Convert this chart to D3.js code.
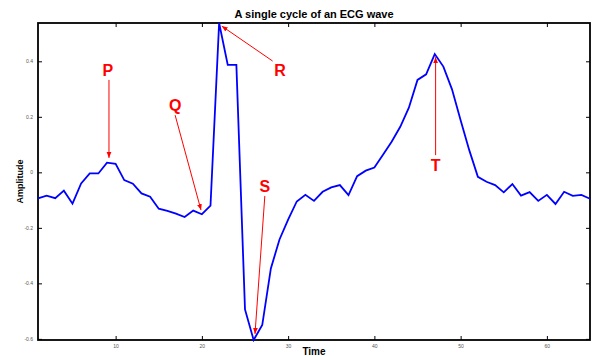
<!DOCTYPE html>
<html>
<head>
<meta charset="utf-8">
<script src="https://cdn.jsdelivr.net/npm/d3@7"></script>
<style>
  body { margin: 0; background: #fff; }
  svg { display: block; font-family: "Liberation Sans", Arial, sans-serif; }
  .tick text { fill: #555; font-size: 5px; }
</style>
</head>
<body>
<script>

// samples 1..65
var amplitude = [
  -0.094, -0.084, -0.093, -0.066, -0.113, -0.040, -0.004, -0.004, 0.035, 0.031,
  -0.028, -0.041, -0.076, -0.088, -0.131, -0.139, -0.149, -0.161, -0.138, -0.151,
  -0.120, 0.538, 0.387, 0.387, -0.494, -0.604, -0.550, -0.346, -0.242, -0.170,
  -0.105, -0.081, -0.103, -0.070, -0.054, -0.046, -0.082, -0.014, 0.006, 0.017,
  0.063, 0.110, 0.164, 0.233, 0.333, 0.353, 0.426, 0.381, 0.299, 0.188,
  0.080, -0.016, -0.034, -0.046, -0.072, -0.042, -0.084, -0.071, -0.103, -0.081,
  -0.114, -0.070, -0.085, -0.081, -0.095
];
var xTicks = [10, 20, 30, 40, 50, 60];
var yTicks = [-0.6, -0.4, -0.2, 0, 0.2, 0.4];

// wave labels and the arrows pointing at them (data units)
var waveNames = ["P", "Q", "R", "S", "T"];
var labelPos = [[9.1, 0.369], [16.9, 0.242], [29.06, 0.369], [27.3, -0.049], [47.1, 0.024]];
var arrowFrom = [[9.23, 0.333], [16.9, 0.206], [28.2, 0.401], [27.3, -0.085], [47.1, 0.062]];
var arrowTo = [[9.23, 0.052], [19.9, -0.136], [22.3, 0.527], [26.16, -0.582], [47.1, 0.415]];

var width = 594,
    height = 356,
    plotL = 38, plotR = 590, plotT = 23, plotB = 340;

var x = d3.scaleLinear().domain([1, 65]).range([plotL, plotR]);
var y = d3.scaleLinear().domain([-0.604, 0.538]).range([plotB, plotT]);

var svg = d3.select("body").append("svg")
    .attr("width", width)
    .attr("height", height);

svg.append("defs").append("marker")
    .attr("id", "head")
    .attr("viewBox", "0 0 10 10")
    .attr("refX", 10).attr("refY", 5)
    .attr("markerWidth", 6).attr("markerHeight", 6)
    .attr("orient", "auto")
    .append("path")
    .attr("d", "M0,1 L10,5 L0,9 Z")
    .attr("fill", "#ff0000");

// axes, ticks pointing inward on all four sides
function fmt(d) { return d === 0 ? "0" : d3.format(".1f")(d).replace("−", "-"); }

svg.append("g")
    .attr("transform", "translate(0," + plotB + ")")
    .call(d3.axisBottom(x).tickValues(xTicks).tickSize(-4).tickPadding(4));
svg.append("g")
    .attr("transform", "translate(0," + plotT + ")")
    .call(d3.axisTop(x).tickValues(xTicks).tickSize(-4).tickFormat(""));
svg.append("g")
    .attr("transform", "translate(" + plotL + ",0)")
    .call(d3.axisLeft(y).tickValues(yTicks).tickSize(-4).tickPadding(5).tickFormat(fmt));
svg.append("g")
    .attr("transform", "translate(" + plotR + ",0)")
    .call(d3.axisRight(y).tickValues(yTicks).tickSize(-4).tickFormat(""));

svg.selectAll(".domain").remove();
svg.selectAll(".tick line").attr("stroke", "#000").attr("stroke-width", 1);

svg.append("rect")
    .attr("x", plotL).attr("y", plotT)
    .attr("width", plotR - plotL).attr("height", plotB - plotT)
    .attr("fill", "none")
    .attr("stroke", "#000")
    .attr("stroke-width", 1.8);

var line = d3.line()
    .x(function(d, i) { return x(i + 1); })
    .y(function(d) { return y(d); });

svg.append("path")
    .datum(amplitude)
    .attr("d", line)
    .attr("fill", "none")
    .attr("stroke", "#0000ff")
    .attr("stroke-width", 1.8)
    .attr("stroke-linejoin", "miter");

// annotations
svg.selectAll(".arrow")
    .data(waveNames)
    .enter().append("line")
    .attr("class", "arrow")
    .attr("x1", function(d, i) { return x(arrowFrom[i][0]); })
    .attr("y1", function(d, i) { return y(arrowFrom[i][1]); })
    .attr("x2", function(d, i) { return x(arrowTo[i][0]); })
    .attr("y2", function(d, i) { return y(arrowTo[i][1]); })
    .attr("stroke", "#ff0000")
    .attr("stroke-width", 1)
    .attr("marker-end", "url(#head)");

svg.selectAll(".wave")
    .data(waveNames)
    .enter().append("text")
    .attr("class", "wave")
    .attr("x", function(d, i) { return x(labelPos[i][0]); })
    .attr("y", function(d, i) { return y(labelPos[i][1]); })
    .attr("dy", "0.35em")
    .attr("text-anchor", "middle")
    .attr("fill", "#ff0000")
    .style("font-size", "16px")
    .style("font-weight", "bold")
    .text(function(d) { return d; });

svg.append("text")
    .attr("x", (plotL + plotR) / 2)
    .attr("y", 18)
    .attr("text-anchor", "middle")
    .style("font-size", "11px")
    .style("font-weight", "bold")
    .text("A single cycle of an ECG wave");

svg.append("text")
    .attr("x", (plotL + plotR) / 2)
    .attr("y", 355)
    .attr("text-anchor", "middle")
    .style("font-size", "10px")
    .style("font-weight", "bold")
    .text("Time");

svg.append("text")
    .attr("transform", "translate(23," + (plotT + plotB) / 2 + ") rotate(-90)")
    .attr("text-anchor", "middle")
    .style("font-size", "9px")
    .style("font-weight", "bold")
    .text("Amplitude");

</script>
</body>
</html>
